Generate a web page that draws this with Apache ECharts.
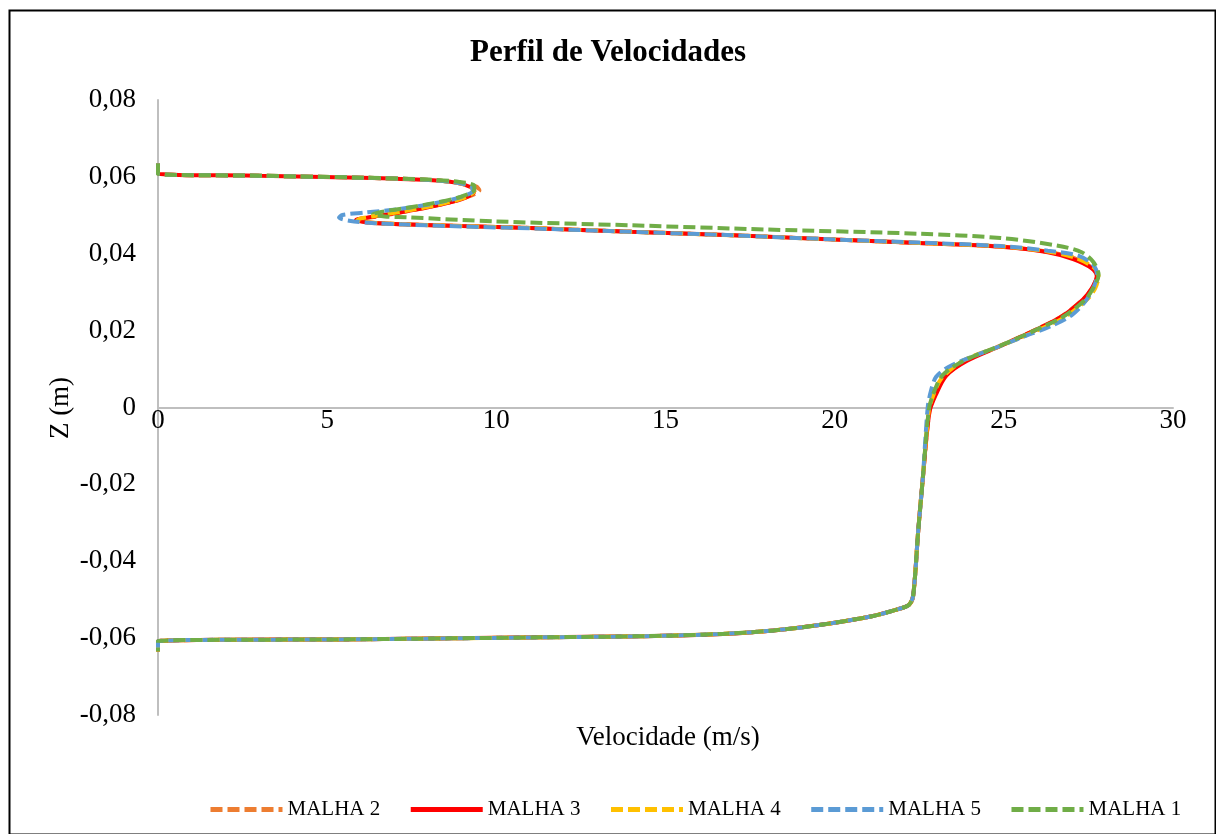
<!DOCTYPE html>
<html>
<head>
<meta charset="utf-8">
<title>Perfil de Velocidades</title>
<script src="https://cdn.jsdelivr.net/npm/echarts@6/dist/echarts.min.js"></script>
<style>
  html, body { margin: 0; padding: 0; background: #ffffff; }
  #chart { width: 1216px; height: 834px; }
</style>
</head>
<body>
<div id="chart"></div>
<script>
// Velocity profiles: [velocity (m/s), Z (m)] for each mesh
const seriesNames = ['MALHA 2', 'MALHA 3', 'MALHA 4', 'MALHA 5', 'MALHA 1'];
const seriesColors = ['#ED7D31', '#FF0000', '#FFC000', '#5B9BD5', '#70AD47'];

const malha2 = [
  [0, 0.0635], [0, 0.0609], [3.0, 0.0603], [6.0, 0.0598], [8.0, 0.0592], [8.9, 0.0585],
  [9.4, 0.0575], [9.5, 0.0565], [9.1, 0.0546], [8.4, 0.0529], [7.4, 0.0511], [6.5, 0.0497],
  [5.9, 0.0488], [6.2, 0.0481], [7.2, 0.0477], [9.0, 0.0472], [11.0, 0.0467], [14.0, 0.0457],
  [17.0, 0.0448], [20.0, 0.0437], [22.5, 0.0428], [24.9, 0.0419], [26.3, 0.0405], [27.1, 0.0388],
  [27.6, 0.0364], [27.75, 0.0342], [27.6, 0.0310], [27.35, 0.0282], [26.7, 0.0237], [25.9, 0.0201],
  [24.9, 0.0161], [23.9, 0.0123], [23.3, 0.0087], [22.95, 0.0040], [22.8, -0.0010], [22.6, -0.019],
  [22.47, -0.032], [22.32, -0.049], [22.2, -0.0513], [21.9, -0.0524], [21.1, -0.0543], [19.7, -0.0564],
  [18.2, -0.0580], [16.7, -0.0589], [14.3, -0.0595], [11.3, -0.0598], [6.0, -0.0603], [0, -0.0608],
  [0, -0.0635]
];

const malha3 = [
  [0, 0.0635], [0, 0.0609], [3.0, 0.0603], [6.0, 0.0598], [8.0, 0.0592], [8.8, 0.0585],
  [9.25, 0.0573], [9.35, 0.0562], [9.0, 0.0543], [8.3, 0.0527], [7.3, 0.0510], [6.4, 0.0497],
  [5.85, 0.0488], [6.2, 0.0481], [7.2, 0.0477], [9.0, 0.0472], [11.0, 0.0467], [14.0, 0.0457],
  [17.0, 0.0448], [20.0, 0.0437], [22.5, 0.0428], [24.9, 0.0418], [26.3, 0.0404], [27.05, 0.0386],
  [27.6, 0.0362], [27.75, 0.0342], [27.6, 0.0310], [27.35, 0.0282], [26.7, 0.0236], [25.9, 0.0200],
  [24.9, 0.0160], [23.9, 0.0121], [23.3, 0.0083], [23.0, 0.0035], [22.8, -0.0013], [22.6, -0.019],
  [22.47, -0.032], [22.32, -0.049], [22.2, -0.0513], [21.9, -0.0524], [21.1, -0.0543], [19.7, -0.0564],
  [18.2, -0.0580], [16.7, -0.0589], [14.3, -0.0595], [11.3, -0.0598], [6.0, -0.0603], [0, -0.0608],
  [0, -0.0635]
];

const malha4 = [
  [0, 0.0635], [0, 0.0609], [3.0, 0.0603], [6.0, 0.0598], [8.0, 0.0592], [8.8, 0.0585],
  [9.25, 0.0574], [9.35, 0.0563], [9.0, 0.0544], [8.3, 0.0528], [7.3, 0.0511], [6.4, 0.0498],
  [5.9, 0.0489], [6.2, 0.0482], [7.2, 0.0477], [9.0, 0.0472], [11.0, 0.0467], [14.0, 0.0457],
  [17.0, 0.0448], [20.0, 0.0437], [22.5, 0.0428], [24.9, 0.0419], [26.3, 0.0406], [27.1, 0.0390],
  [27.65, 0.0365], [27.8, 0.0342], [27.7, 0.0310], [27.45, 0.0280], [26.8, 0.0235], [25.95, 0.0199],
  [24.9, 0.0160], [23.8, 0.0122], [23.15, 0.0075], [22.9, 0.0028], [22.78, -0.0010], [22.6, -0.019],
  [22.47, -0.032], [22.32, -0.049], [22.2, -0.0513], [21.9, -0.0524], [21.1, -0.0543], [19.7, -0.0564],
  [18.2, -0.0580], [16.7, -0.0589], [14.3, -0.0595], [11.3, -0.0598], [6.0, -0.0603], [0, -0.0608],
  [0, -0.0635]
];

const malha5 = [
  [0, 0.0635], [0, 0.0609], [3.0, 0.0603], [6.0, 0.0598], [8.0, 0.0592], [8.8, 0.0585],
  [9.25, 0.0575], [9.3, 0.0564], [8.9, 0.0546], [8.1, 0.0530], [7.1, 0.0516], [6.1, 0.0507],
  [5.45, 0.0501], [5.35, 0.0494], [5.8, 0.0484], [6.5, 0.0479], [7.3, 0.0476], [9.0, 0.0471],
  [11.0, 0.0466], [14.0, 0.0457], [17.0, 0.0448], [20.0, 0.0437], [22.5, 0.0429], [24.9, 0.0420],
  [26.3, 0.0408], [27.2, 0.0395], [27.65, 0.0370], [27.75, 0.0345], [27.65, 0.0312], [27.4, 0.0275],
  [27.0, 0.0240], [26.35, 0.0210], [25.6, 0.0185], [24.9, 0.0160], [24.0, 0.0130], [23.35, 0.0105],
  [23.0, 0.0080], [22.85, 0.0045], [22.75, 0.0000], [22.6, -0.019], [22.47, -0.032], [22.32, -0.049],
  [22.2, -0.0513], [21.9, -0.0524], [21.1, -0.0543], [19.7, -0.0564], [18.2, -0.0580], [16.7, -0.0589],
  [14.3, -0.0595], [11.3, -0.0598], [6.0, -0.0603], [0, -0.0608], [0, -0.0635]
];

const malha1 = [
  [0, 0.0635], [0, 0.0609], [3.0, 0.0603], [6.0, 0.0598], [8.0, 0.0593], [8.9, 0.0587],
  [9.35, 0.0577], [9.35, 0.0566], [8.9, 0.0547], [8.1, 0.0531], [7.2, 0.0517], [6.6, 0.0509],
  [6.35, 0.0503], [6.7, 0.0497], [7.3, 0.0495], [10.0, 0.0484], [14.0, 0.0474], [18.0, 0.0463],
  [22.5, 0.0452], [24.9, 0.0441], [26.6, 0.0421], [27.3, 0.0404], [27.65, 0.0378], [27.8, 0.0345],
  [27.65, 0.0312], [27.4, 0.0280], [26.75, 0.0236], [25.9, 0.0200], [24.9, 0.0161], [23.85, 0.0123],
  [23.2, 0.0085], [22.9, 0.0032], [22.78, -0.0008], [22.6, -0.019], [22.47, -0.032], [22.32, -0.049],
  [22.2, -0.0513], [21.9, -0.0524], [21.1, -0.0543], [19.7, -0.0564], [18.2, -0.0580], [16.7, -0.0589],
  [14.3, -0.0595], [11.3, -0.0598], [6.0, -0.0603], [0, -0.0608], [0, -0.0635]
];

const seriesData = [malha2, malha3, malha4, malha5, malha1];
const seriesDashed = [true, false, true, true, true];

// Axis tick labels (pt-BR decimal comma)
const xTickLabels = ['0', '5', '10', '15', '20', '25', '30'];
const yTickLabels = ['-0,08', '-0,06', '-0,04', '-0,02', '0', '0,02', '0,04', '0,06', '0,08'];
const xMin = 0, xMax = 30, xStep = 5;
const yMin = -0.08, yMax = 0.08, yStep = 0.02;

const FONT = '"Liberation Serif", "Times New Roman", serif';

// plot rectangle
const GRID = { left: 158, right: 43, top: 100, bottom: 119 };
const plotHeight = 834 - GRID.top - GRID.bottom;
// distance from the bottom edge up to Z = 0, so the velocity axis crosses there
const zeroOffset = plotHeight * (0 - yMin) / (yMax - yMin);

const chart = echarts.init(document.getElementById('chart'), null, { renderer: 'canvas' });

const series = seriesNames.map((name, i) => ({
  name: name,
  type: 'line',
  data: seriesData[i],
  smooth: 0.3,
  symbol: 'circle',
  showSymbol: false,
  z: 2 + i,
  lineStyle: {
    color: seriesColors[i],
    width: 4,
    type: seriesDashed[i] ? [12, 5] : 'solid',
    cap: 'butt'
  },
  itemStyle: { color: seriesColors[i] },
  emphasis: { disabled: true },
  animation: false
}));

chart.setOption({
  backgroundColor: '#ffffff',
  animation: false,
  title: {
    text: 'Perfil de Velocidades',
    left: 'center',
    top: 32,
    textStyle: { fontFamily: FONT, fontWeight: 'bold', fontSize: 31, color: '#000000' }
  },
  grid: { left: GRID.left, right: GRID.right, top: GRID.top, bottom: GRID.bottom, containLabel: false },
  xAxis: {
    type: 'value',
    position: 'bottom',
    offset: -zeroOffset,
    min: xMin, max: xMax, interval: xStep,
    axisLine: { show: true, onZero: false, lineStyle: { color: '#bfbfbf', width: 2 } },
    axisTick: { show: false },
    splitLine: { show: false },
    axisLabel: {
      margin: 0,
      fontFamily: FONT, fontSize: 27, color: '#000000',
      formatter: v => xTickLabels[Math.round((v - xMin) / xStep)]
    }
  },
  yAxis: {
    type: 'value',
    min: yMin, max: yMax, interval: yStep,
    axisLine: { show: true, onZero: false, lineStyle: { color: '#bfbfbf', width: 2 } },
    axisTick: { show: false },
    splitLine: { show: false },
    axisLabel: {
      margin: 22,
      fontFamily: FONT, fontSize: 27, color: '#000000',
      formatter: v => yTickLabels[Math.round((v - yMin) / yStep)]
    }
  },
  legend: {
    data: seriesNames,
    left: 203,
    top: 794,
    itemWidth: 72,
    itemHeight: 14,
    itemGap: 28,
    itemStyle: { opacity: 0 },
    lineStyle: { width: 5 },
    textStyle: { fontFamily: FONT, fontSize: 21, color: '#000000' }
  },
  graphic: [
    {
      type: 'rect',
      left: 7, top: 8,
      shape: { width: 1206, height: 824 },
      style: { fill: 'none', stroke: '#000000', lineWidth: 2 },
      silent: true
    },
    {
      type: 'text',
      x: 668, y: 738,
      style: { text: 'Velocidade (m/s)', font: '27px ' + FONT, fill: '#000000', textAlign: 'center', textVerticalAlign: 'middle' }
    },
    {
      type: 'text',
      x: 61, y: 408,
      rotation: Math.PI / 2,
      style: { text: 'Z (m)', font: '27px ' + FONT, fill: '#000000', textAlign: 'center', textVerticalAlign: 'middle' }
    }
  ],
  series: series
});
</script>
</body>
</html>
